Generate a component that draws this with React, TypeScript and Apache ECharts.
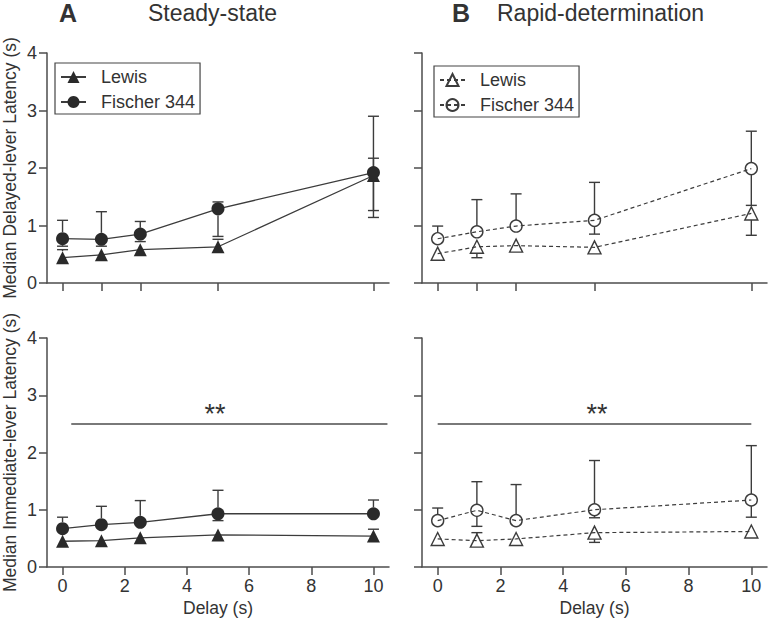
import React, { useEffect, useRef } from 'react';
import * as echarts from 'echarts';

// ---------- data ----------
const delays = [0, 1.25, 2.5, 5, 10];
const xTicksTop = [0, 1.25, 2.5, 5, 10];
const xTicksBottom = [0, 2, 4, 6, 8, 10];

// A: Steady-state, delayed lever
const aDelLewis = [0.44, 0.49, 0.58, 0.63, 1.87];
const aDelLewisLo = [0.4, 0.45, 0.48, 0.58, 1.26];
const aDelLewisHi = [0.58, 0.59, 0.67, 0.76, 2.17];
const aDelF344 = [0.77, 0.76, 0.85, 1.29, 1.92];
const aDelF344Lo = [0.64, 0.64, 0.72, 0.81, 1.14];
const aDelF344Hi = [1.09, 1.24, 1.07, 1.41, 2.9];

// B: Rapid-determination, delayed lever
const bDelLewis = [0.51, 0.63, 0.65, 0.62, 1.21];
const bDelLewisLo = [0.45, 0.44, 0.57, 0.53, 0.83];
const bDelLewisHi = [0.57, 0.7, 0.74, 0.68, 1.3];
const bDelF344 = [0.77, 0.89, 0.99, 1.09, 1.99];
const bDelF344Lo = [0.68, 0.8, 0.9, 0.85, 1.35];
const bDelF344Hi = [0.99, 1.45, 1.55, 1.75, 2.64];

// A: Steady-state, immediate lever
const aImmLewis = [0.45, 0.46, 0.51, 0.56, 0.54];
const aImmLewisLo = [0.4, 0.42, 0.47, 0.51, 0.46];
const aImmLewisHi = [0.5, 0.55, 0.55, 0.6, 0.66];
const aImmF344 = [0.67, 0.74, 0.78, 0.93, 0.93];
const aImmF344Lo = [0.6, 0.68, 0.7, 0.81, 0.87];
const aImmF344Hi = [0.87, 1.06, 1.16, 1.34, 1.17];

// B: Rapid-determination, immediate lever
const bImmLewis = [0.49, 0.46, 0.49, 0.6, 0.62];
const bImmLewisLo = [0.44, 0.4, 0.44, 0.43, 0.58];
const bImmLewisHi = [0.55, 0.6, 0.6, 0.66, 0.66];
const bImmF344 = [0.81, 0.99, 0.81, 1.0, 1.17];
const bImmF344Lo = [0.74, 0.71, 0.76, 0.86, 0.87];
const bImmF344Hi = [1.03, 1.49, 1.44, 1.86, 2.12];

// significance bars: [xStart, xEnd, y], star position [x, y]
const sigA = [0.28, 10.45, 2.5];
const sigAStar = [4.9, 2.5];
const sigB = [0, 10, 2.5];
const sigBStar = [5.08, 2.5];

// ---------- style ----------
const FONT = '"Liberation Sans", Arial, Helvetica, sans-serif';
const INK = '#333333';
const AXIS = '#4d4d4d';
const LINE = '#3c3c3c';
const CAP = 5.5;

const grids = [
  { left: 43, top: 53, width: 346, height: 230 },
  { left: 422, top: 53, width: 345, height: 230 },
  { left: 43, top: 338, width: 346, height: 229 },
  { left: 422, top: 338, width: 345, height: 229 },
];

const makeErr = (r: number) => (params: any, api: any) => {
  const x = api.value(0);
  const lo = api.value(1);
  const hi = api.value(2);
  const m = api.value(3);
  const c = api.coord([x, m]);
  const ch = api.coord([x, hi]);
  const cl = api.coord([x, lo]);
  const st = { stroke: LINE, lineWidth: 1.4 };
  const seg = (x1: number, y1: number, x2: number, y2: number) => ({
    type: 'line',
    shape: { x1, y1, x2, y2 },
    style: st,
  });
  const kids: any[] = [];
  if (c[1] - ch[1] > r) {
    kids.push(seg(c[0], c[1] - r, ch[0], ch[1]));
    kids.push(seg(ch[0] - CAP, ch[1], ch[0] + CAP, ch[1]));
  }
  if (cl[1] - c[1] > r) {
    kids.push(seg(c[0], c[1] + r, cl[0], cl[1]));
    kids.push(seg(cl[0] - CAP, cl[1], cl[0] + CAP, cl[1]));
  }
  return { type: 'group', children: kids };
};

const errSeries = (gi: number, v: number[], lo: number[], hi: number[], r: number) => ({
  type: 'custom',
  name: 'err' + gi,
  xAxisIndex: gi,
  yAxisIndex: gi,
  silent: true,
  z: 2,
  encode: { x: 0, y: [1, 2] },
  data: delays.map((d, i) => [d, lo[i], hi[i], v[i]]),
  renderItem: makeErr(r),
});

const lineSeries = (gi: number, name: string, v: number[], symbol: string, size: number, open: boolean, extra: any = {}) => ({
  type: 'line',
  name,
  xAxisIndex: gi,
  yAxisIndex: gi,
  z: 3,
  symbol,
  symbolSize: size,
  showAllSymbol: true,
  itemStyle: open
    ? { color: 'rgba(255,255,255,0)', borderColor: LINE, borderWidth: 1.4 }
    : { color: '#2a2a2a', borderColor: '#2a2a2a', borderWidth: 0 },
  lineStyle: open ? { color: LINE, width: 1.2, type: [4, 3] } : { color: LINE, width: 1.3 },
  data: delays.map((d, i) => [d, v[i]]),
  ...extra,
});

const sigMarks = (bar: number[], star: number[]) => ({
  markLine: {
    silent: true,
    symbol: ['none', 'none'],
    lineStyle: { color: AXIS, width: 1.5, type: 'solid' },
    label: { show: false },
    data: [[{ coord: [bar[0], bar[2]] }, { coord: [bar[1], bar[2]] }]],
  },
  markPoint: {
    silent: true,
    symbol: 'circle',
    symbolSize: 1,
    itemStyle: { color: 'rgba(0,0,0,0)' },
    label: {
      show: true,
      formatter: '**',
      position: 'top',
      distance: -4,
      fontSize: 27,
      color: INK,
      fontFamily: FONT,
    },
    data: [{ coord: star }],
  },
});

const legendBase = {
  orient: 'vertical',
  itemWidth: 25,
  itemHeight: 15,
  itemGap: 7,
  padding: [5, 5, 3, 5],
  borderColor: '#444',
  borderWidth: 1.2,
  selectedMode: false,
  textStyle: { fontSize: 18, color: INK, fontFamily: FONT, padding: [0, 0, 0, 10] },
};

export default function App() {
  const ref = useRef<HTMLDivElement>(null);
  useEffect(() => {
    document.body.style.margin = '0';
    if (!ref.current) return;
    const chart = echarts.init(ref.current, undefined, { renderer: 'svg' });
    const axisLineStyle = { color: AXIS, width: 1.5 };
    const option: any = {
      animation: false,
      textStyle: { fontFamily: FONT },
      title: [
        { text: 'A', left: 59, top: 0, padding: 0, textStyle: { fontSize: 25, fontWeight: 'bold', color: INK, fontFamily: FONT } },
        { text: 'Steady-state', left: 148, top: 1, padding: 0, textStyle: { fontSize: 23, fontWeight: 'normal', color: INK, fontFamily: FONT } },
        { text: 'B', left: 452, top: 0, padding: 0, textStyle: { fontSize: 25, fontWeight: 'bold', color: INK, fontFamily: FONT } },
        { text: 'Rapid-determination', left: 497, top: 1, padding: 0, textStyle: { fontSize: 23, fontWeight: 'normal', color: INK, fontFamily: FONT } },
      ],
      legend: [
        { ...legendBase, data: ['Lewis', 'Fischer 344'], left: 55, top: 63 },
        {
          ...legendBase,
          data: ['Lewis B', 'Fischer 344 B'],
          left: 434,
          top: 66,
          formatter: (n: string) => n.replace(/ B$/, ''),
        },
      ],
      grid: grids,
      xAxis: grids.map((g, i) => ({
        type: 'value',
        gridIndex: i,
        min: -0.5,
        max: 10.5,
        axisLine: { show: true, onZero: false, lineStyle: axisLineStyle },
        axisTick: { show: true, length: 8, customValues: i < 2 ? xTicksTop : xTicksBottom, lineStyle: axisLineStyle },
        axisLabel: { show: i >= 2, customValues: xTicksBottom, margin: 10, fontSize: 18, color: INK, fontFamily: FONT },
        splitLine: { show: false },
        name: i >= 2 ? 'Delay (s)' : '',
        nameLocation: 'middle',
        nameGap: 32,
        nameTextStyle: { fontSize: 17.5, color: INK, fontFamily: FONT },
      })),
      yAxis: grids.map((g, i) => ({
        type: 'value',
        gridIndex: i,
        min: 0,
        max: 4,
        interval: 1,
        axisLine: { show: true, onZero: false, lineStyle: axisLineStyle },
        axisTick: { show: true, length: 8, lineStyle: axisLineStyle },
        axisLabel: { show: i % 2 === 0, margin: 10, fontSize: 18, color: INK, fontFamily: FONT },
        splitLine: { show: false },
        name: i === 0 ? 'Median Delayed-lever Latency (s)' : i === 2 ? 'Median Immediate-lever Latency (s)' : '',
        nameLocation: 'middle',
        nameGap: 28,
        nameTextStyle: { fontSize: 17.5, color: INK, fontFamily: FONT },
      })),
      series: [
        errSeries(0, aDelLewis, aDelLewisLo, aDelLewisHi, 6.5),
        errSeries(0, aDelF344, aDelF344Lo, aDelF344Hi, 6.5),
        lineSeries(0, 'Lewis', aDelLewis, 'triangle', 13, false),
        lineSeries(0, 'Fischer 344', aDelF344, 'circle', 13, false),

        errSeries(1, bDelLewis, bDelLewisLo, bDelLewisHi, 6.5),
        errSeries(1, bDelF344, bDelF344Lo, bDelF344Hi, 6),
        lineSeries(1, 'Lewis B', bDelLewis, 'triangle', 13, true),
        lineSeries(1, 'Fischer 344 B', bDelF344, 'circle', 12, true),

        errSeries(2, aImmLewis, aImmLewisLo, aImmLewisHi, 6.5),
        errSeries(2, aImmF344, aImmF344Lo, aImmF344Hi, 6.5),
        lineSeries(2, 'Lewis', aImmLewis, 'triangle', 13, false, sigMarks(sigA, sigAStar)),
        lineSeries(2, 'Fischer 344', aImmF344, 'circle', 13, false),

        errSeries(3, bImmLewis, bImmLewisLo, bImmLewisHi, 6.5),
        errSeries(3, bImmF344, bImmF344Lo, bImmF344Hi, 6),
        lineSeries(3, 'Lewis B', bImmLewis, 'triangle', 13, true, sigMarks(sigB, sigBStar)),
        lineSeries(3, 'Fischer 344 B', bImmF344, 'circle', 12, true),
      ],
    };
    chart.setOption(option);
    return () => chart.dispose();
  }, []);
  return <div ref={ref} style={{ width: 768, height: 623 }} />;
}
